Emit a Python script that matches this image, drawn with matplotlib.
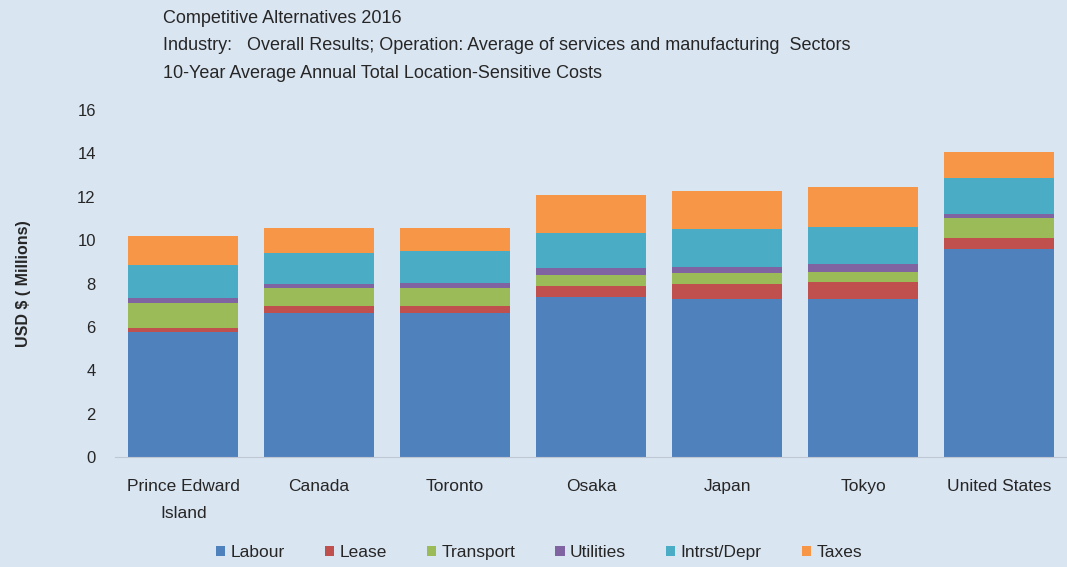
import numpy as np
import matplotlib.pyplot as plt

# data (USD millions)
cities = ["Prince Edward\nIsland", "Canada", "Toronto", "Osaka", "Japan", "Tokyo", "United States"]
labour = [5.75, 6.64, 6.64, 7.39, 7.30, 7.27, 9.59]
lease = [0.21, 0.32, 0.32, 0.51, 0.68, 0.81, 0.49]
transport = [1.13, 0.82, 0.82, 0.49, 0.49, 0.46, 0.92]
utilities = [0.26, 0.20, 0.26, 0.31, 0.30, 0.36, 0.20]
intrst_depr = [1.50, 1.44, 1.46, 1.61, 1.74, 1.72, 1.65]
taxes = [1.34, 1.15, 1.07, 1.77, 1.77, 1.84, 1.20]

series_names = ["Labour", "Lease", "Transport", "Utilities", "Intrst/Depr", "Taxes"]
colors = ["#4F81BD", "#C0504D", "#9BBB59", "#8064A2", "#4BACC6", "#F79646"]

bg = "#DAE5F2"
txt = "#262626"
plt.rcParams["font.family"] = ["Liberation Sans", "DejaVu Sans"]

fig = plt.figure(figsize=(10.67, 5.67), dpi=100, facecolor=bg)
ax = fig.add_axes([0.108, 0.194, 0.892, 0.612])
ax.set_facecolor(bg)

x = np.arange(len(cities))
bottom = np.zeros(len(cities))
for name, vals, col in zip(series_names, [labour, lease, transport, utilities, intrst_depr, taxes], colors):
    ax.bar(x, vals, 0.81, bottom=bottom, color=col, label=name, zorder=2)
    bottom += np.array(vals)

ax.set_xlim(-0.5, len(cities) - 0.5)
ax.set_ylim(0, 16)
ax.set_yticks(range(0, 17, 2))
ax.set_xticks(x)
ax.set_xticklabels(cities, fontsize=12.5, color=txt, linespacing=1.95)
ax.tick_params(axis="y", labelsize=12, colors=txt, length=0, pad=14)
ax.tick_params(axis="x", length=0, pad=16)
for s in ["top", "right", "left"]:
    ax.spines[s].set_visible(False)
ax.spines["bottom"].set_color("#BFC8D2")
ax.spines["bottom"].set_zorder(3)

ax.set_ylabel("USD $ ( Millions)", fontsize=11.5, color=txt, fontweight="bold", labelpad=33)

fig.text(0.153, 0.968, "Competitive Alternatives 2016", fontsize=13, color=txt, va="center")
fig.text(0.153, 0.919, "Industry:   Overall Results; Operation: Average of services and manufacturing  Sectors",
         fontsize=13, color=txt, va="center")
fig.text(0.153, 0.871, "10-Year Average Annual Total Location-Sensitive Costs", fontsize=13, color=txt, va="center")

fig.legend(loc="center", bbox_to_anchor=(0.505, 0.025), ncol=6, frameon=False, fontsize=12.5,
           handlelength=0.55, handleheight=0.55, handletextpad=0.3, columnspacing=2.3, labelcolor=txt)

fig.savefig("out.png", dpi=100, facecolor=bg)
